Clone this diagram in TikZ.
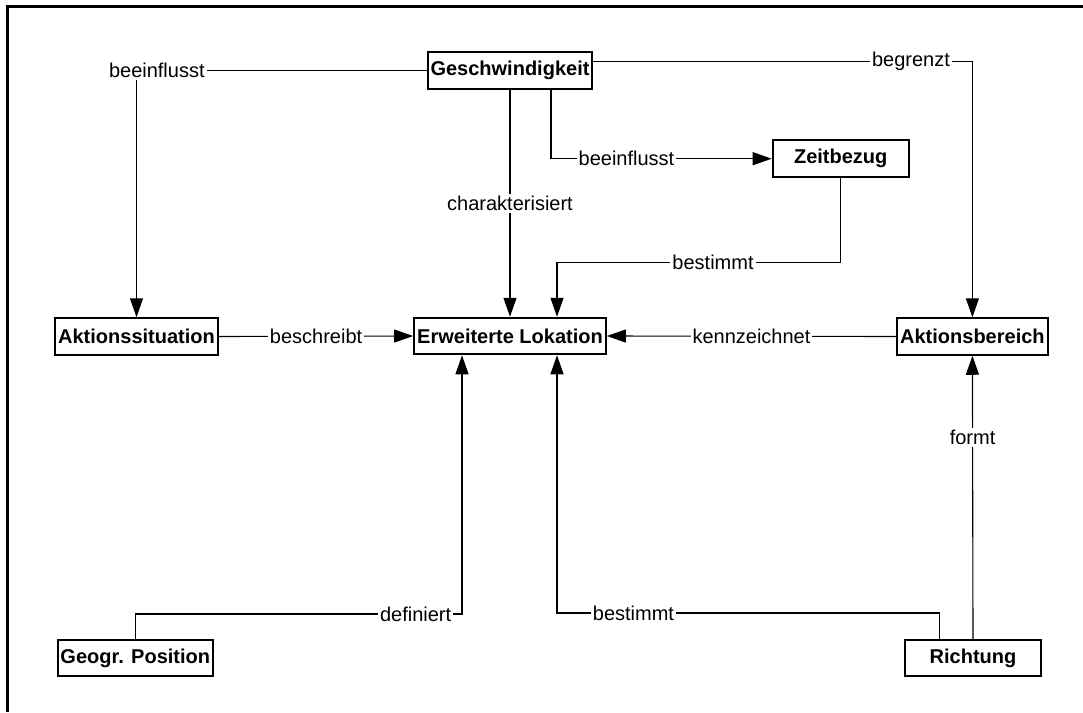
\documentclass[tikz,border=0pt]{standalone}
\usepackage{fontspec}
\setmainfont{Liberation Sans}
\usetikzlibrary{arrows.meta}

\begin{document}
\begin{tikzpicture}[x=1pt,y=-1pt,
  box/.style={draw,line width=2pt,font=\fontsize{20}{24}\selectfont\bfseries,inner xsep=1pt,minimum height=36.5pt},
  lbl/.style={fill=white,font=\fontsize{20}{24}\selectfont,inner sep=2pt},
  conn/.style={line width=1.1pt},
  arr/.style={-{Triangle[length=19pt,width=13pt]}}]
\useasboundingbox (0,0) rectangle (1083,712);
\draw[line width=3pt] (1083,6) -- (7,6) -- (7,712);
% Knoten
\node[box,minimum width=164.6pt] (geschw) at (510,70.5) {Geschwindigkeit};
\node[box,minimum width=136pt] (zeit) at (840.7,158.7) {Zeitbezug};
\node[box,minimum width=163pt] (aktsit) at (136.5,336.5) {Aktionssituation};
\node[box,minimum width=191.7pt] (lok) at (510,336) {Erweiterte Lokation};
\node[box,minimum width=150.7pt] (aktber) at (972.4,336.5) {Aktionsbereich};
\node[box,minimum width=155.3pt] (geo) at (135.3,658) {Geogr. Position};
\node[box,minimum width=135.7pt] (richt) at (973,658) {Richtung};
% Verbindungen
\draw[conn,arr] (geschw.west) -| node[lbl,pos=.465] (lbeein) {beeinflusst} (aktsit.north);
\draw[conn,arr] ([yshift=8.8pt]geschw.east) -| node[lbl,pos=.419] (lbegr) {begrenzt} (aktber.north);
\draw[conn,arr] ([xshift=41pt]geschw.south) |- node[lbl,pos=.671] (lbeeinz) {beeinflusst} (zeit.west);
\draw[conn,arr] (geschw.south) -- node[lbl] (lchar) {charakterisiert} (lok.north);
\draw[conn,arr] (zeit.south) -- (840.7,262.3) -| node[lbl,pos=.225] (lbestz) {bestimmt} ([xshift=47pt]lok.north);
\draw[conn,arr] (aktsit.east) -- node[lbl] (lbeschr) {beschreibt} (lok.west);
\draw[conn,arr] (aktber.west) -- node[lbl] (lkenn) {kennzeichnet} (lok.east);
\draw[conn,arr] (geo.north) -- (135.3,614) -| node[lbl,pos=.429] (ldef) {definiert} ([xshift=-48pt]lok.south);
\draw[conn,arr] ([xshift=-33.7pt]richt.north) -- (939.3,613) -| node[lbl,pos=.40] (lbestr) {bestimmt} ([xshift=47pt]lok.south);
\draw[conn,arr] (richt.north) -- node[lbl,pos=.71] (lformt) {formt} (aktber.south);
\end{tikzpicture}
\end{document}
